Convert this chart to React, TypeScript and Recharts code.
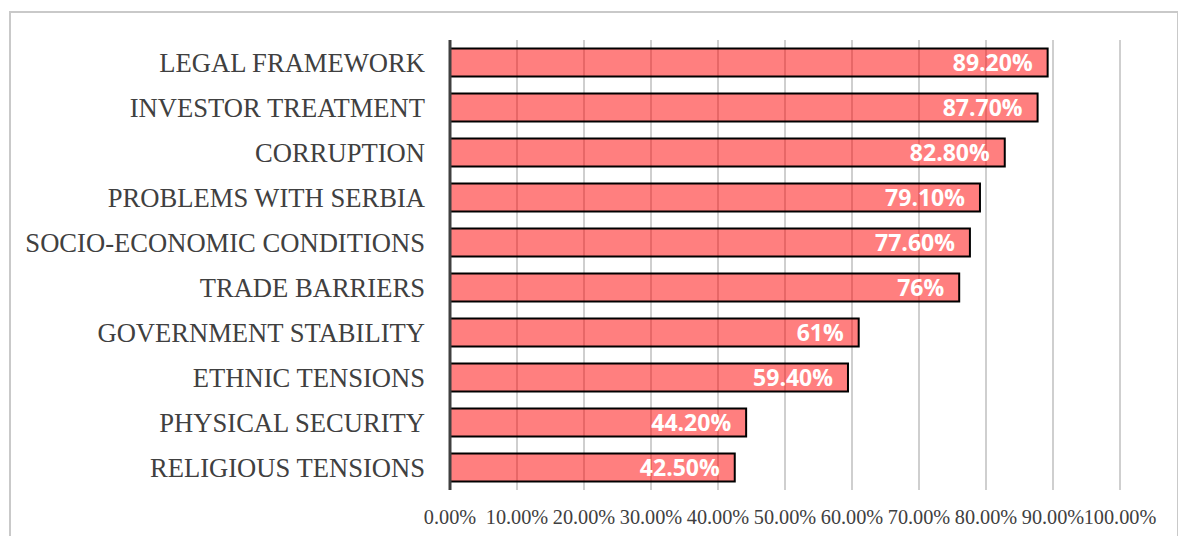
import React from "react";
import { BarChart, Bar, XAxis, YAxis, CartesianGrid, LabelList } from "recharts";

const categories = [
  "LEGAL FRAMEWORK",
  "INVESTOR TREATMENT",
  "CORRUPTION",
  "PROBLEMS WITH SERBIA",
  "SOCIO-ECONOMIC CONDITIONS",
  "TRADE BARRIERS",
  "GOVERNMENT STABILITY",
  "ETHNIC TENSIONS",
  "PHYSICAL SECURITY",
  "RELIGIOUS TENSIONS",
];
const values = [89.2, 87.7, 82.8, 79.1, 77.6, 76, 61, 59.4, 44.2, 42.5];
const valueLabels = ["89.20%", "87.70%", "82.80%", "79.10%", "77.60%", "76%", "61%", "59.40%", "44.20%", "42.50%"];
const xTicks = [0, 10, 20, 30, 40, 50, 60, 70, 80, 90, 100];

const data = categories.map((c, i) => ({ name: c, value: values[i], label: valueLabels[i] }));

export default function App() {
  return (
    <div style={{ position: "absolute", left: 0, top: 0, width: 1178, height: 536, background: "#fff", overflow: "hidden" }}>
      <div
        style={{
          position: "absolute",
          left: 9,
          top: 11,
          width: 1170,
          height: 540,
          border: "2px solid #c9c9c9",
          boxSizing: "border-box",
        }}
      />
      <div style={{ position: "absolute", left: 0, top: 0 }}>
        <BarChart
          width={1178}
          height={536}
          data={data}
          layout="vertical"
          margin={{ top: 40, right: 58, bottom: 0, left: 0 }}
          barCategoryGap="19%"
        >
          <CartesianGrid horizontal={false} vertical={true} stroke="#bfbfbf" strokeWidth={1.5} />
          <XAxis
            type="number"
            domain={[0, 100]}
            ticks={xTicks}
            tickFormatter={(v: number) => v.toFixed(2) + "%"}
            axisLine={false}
            tickLine={false}
            interval={0}
            height={46}
            tickMargin={14}
            tick={{ fontFamily: "Liberation Serif", fontSize: 20.3, fill: "#404040" }}
          />
          <YAxis
            type="category"
            dataKey="name"
            width={450}
            axisLine={{ stroke: "#404040", strokeWidth: 3 }}
            tickLine={false}
            tickMargin={19}
            interval={0}
            tick={{ fontFamily: "Liberation Serif", fontSize: 26.6, fill: "#404040" }}
          />
          <Bar
            dataKey="value"
            fill="rgba(255,0,0,0.5)"
            stroke="#000"
            strokeWidth={2}
            isAnimationActive={false}
          >
            <LabelList
              dataKey="label"
              position="insideRight"
              offset={15}
              fill="#fff"
              style={{ fontFamily: "Open Sans", fontWeight: 700, fontSize: 23, fill: "#fff" }}
            />
          </Bar>
        </BarChart>
      </div>
    </div>
  );
}
